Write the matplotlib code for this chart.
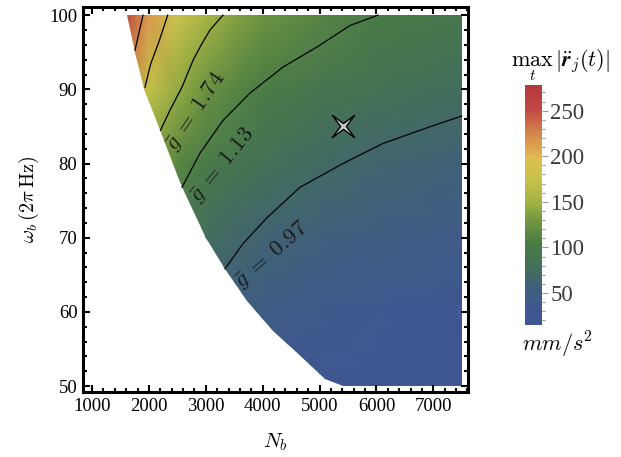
import numpy as np
import matplotlib
matplotlib.use('Agg')
import matplotlib.pyplot as plt
from matplotlib.colors import LinearSegmentedColormap
from matplotlib.patches import Polygon
from matplotlib.path import Path
from matplotlib.ticker import MultipleLocator

plt.rcParams['mathtext.fontset'] = 'cm'
plt.rcParams['font.family'] = ['Liberation Serif', 'DejaVu Serif']

# ---- data ----
N_grid = [1500, 2000, 2500, 3000, 3500, 4000, 5000, 6000, 7500]
omega_grid = [50, 60, 70, 80, 90, 100]
acc = [
    [80, 60, 48, 41, 37, 33, 29, 26, 23],          # omega = 50
    [105, 80, 65, 56, 50, 45, 39, 35, 31],         # 60
    [140, 105, 86, 76, 68, 62, 54, 48, 43],        # 70
    [180, 135, 114, 100, 90, 82, 72, 64, 58],      # 80
    [230, 172, 144, 125, 113, 104, 92, 84, 76],    # 90
    [290, 215, 178, 154, 138, 126, 112, 102, 94],  # 100
]

# feasible-region boundary (left edge)
bnd_omega = [100, 95, 90, 84.5, 80, 76.8, 70, 65.8, 61.5, 57.4, 55, 51, 50]
bnd_N = [1615, 1755, 1920, 2195, 2420, 2580, 3000, 3340, 3720, 4180, 4530, 5100, 5410]
N_max = 7500
omega_min, omega_max = 50, 100

# contour lines of g-bar
c1_N = [1896, 1830, 1756]
c1_w = [100, 97.8, 95.3]
c2_N = [2330, 2180, 2030, 1931]
c2_w = [100, 96.5, 93.4, 90.3]
c3_N = [3302, 3074, 2920, 2775, 2582, 2371, 2205]
c3_w = [100, 98, 96, 93.9, 90.3, 87.2, 84.5]
c4_N = [6026, 5534, 4954, 4357, 3777, 3302, 2898, 2582]
c4_w = [100, 98.6, 95.7, 93.0, 89.5, 85.8, 81.4, 76.8]
c5_N = [7500, 6993, 6114, 5411, 4656, 4076, 3654, 3337]
c5_w = [86.4, 85.1, 82.7, 80, 76.8, 72.7, 69.2, 65.8]

labels = [r'$\bar{g}\;=\;1.74$', r'$\bar{g}\;=\;1.13$', r'$\bar{g}\;=\;0.97$']
label_N = [2820, 3290, 4150]
label_w = [87.0, 79.8, 67.7]
label_rot = [56, 51, 41]

star_N, star_w = 5411, 85.1

cb_ticks = [50, 100, 150, 200, 250]

# ---- colormap ----
cm_pos = [0.0, 0.076, 0.16, 0.24, 0.34, 0.43, 0.51, 0.61, 0.69, 0.745, 0.82, 0.905, 1.0]
cm_col = ['#3e5595', '#3e5890', '#406078', '#43705a', '#4a7c44', '#6f9540',
          '#a0b244', '#c9c24a', '#ddbf4f', '#dda24f', '#cf7a4a', '#c04545', '#b53a3a']
cmap = LinearSegmentedColormap.from_list('dr', list(zip(cm_pos, cm_col)))
vmin, vmax = 15, 278

fig = plt.figure(figsize=(6.21, 4.57), dpi=100)
ax = fig.add_axes([0.1337, 0.1422, 0.620, 0.8425])

mesh = ax.pcolormesh(N_grid, omega_grid, acc, shading='gouraud', cmap=cmap,
                     vmin=vmin, vmax=vmax, zorder=1)
poly_pts = list(zip(bnd_N, bnd_omega)) + [(N_max, omega_min), (N_max, omega_max)]
poly = Polygon(poly_pts, closed=True, transform=ax.transData,
               facecolor='none', edgecolor='none')
mesh.set_clip_path(poly)

for xs, ys in [(c1_N, c1_w), (c2_N, c2_w), (c3_N, c3_w), (c4_N, c4_w), (c5_N, c5_w)]:
    ax.plot(xs, ys, color='black', lw=0.9, zorder=3)

for t, x, y, r in zip(labels, label_N, label_w, label_rot):
    ax.text(x, y, t, rotation=r, rotation_mode='anchor', ha='center', va='center',
            fontsize=16.5, color='#1a1a1a', zorder=4)

# 4-point star marker
s = 0.26
verts = [(1, 1), (s, 0), (1, -1), (0, -s), (-1, -1), (-s, 0), (-1, 1), (0, s), (1, 1)]
codes = [Path.MOVETO] + [Path.LINETO] * 7 + [Path.CLOSEPOLY]
star = Path(verts, codes)
ax.plot([star_N], [star_w], marker=star, markersize=16, markerfacecolor='#c8c8c8',
        markeredgecolor='black', markeredgewidth=1.0, linestyle='none', zorder=5)

ax.set_xlim(842, 7610)
ax.set_ylim(49.2, 101.1)
ax.xaxis.set_major_locator(MultipleLocator(1000))
ax.xaxis.set_minor_locator(MultipleLocator(200))
ax.yaxis.set_major_locator(MultipleLocator(10))
ax.yaxis.set_minor_locator(MultipleLocator(2))
ax.tick_params(which='both', direction='in', top=True, right=True, width=1.5,
               labelsize=13.5, pad=4)
ax.tick_params(which='major', length=5)
ax.tick_params(which='minor', length=3)
for sp in ax.spines.values():
    sp.set_linewidth(2.2)

ax.set_xlabel(r'$N_b$', fontsize=15, labelpad=12)
ax.set_ylabel(r'$\omega_b\,(2\pi\,\mathrm{Hz})$', fontsize=14.5, labelpad=6)

# colorbar
cax = fig.add_axes([0.8454, 0.2888, 0.0274, 0.525])
cb = fig.colorbar(mesh, cax=cax)
cb.outline.set_visible(False)
cb.set_ticks(cb_ticks)
cax.yaxis.set_minor_locator(MultipleLocator(10))
cax.tick_params(which='both', direction='out', color='#999999', labelcolor='#3a3a3a',
                labelsize=16.5, width=0.8, pad=2)
cax.tick_params(which='major', length=4)
cax.tick_params(which='minor', length=2)

fig.text(0.902, 0.858, r'$\max_t\,|\ddot{\boldsymbol{r}}_j\!(t)|$', fontsize=16,
         ha='center', va='center')
fig.text(0.898, 0.245, r'$mm/s^2$', fontsize=16, ha='center', va='center')

fig.savefig('out.png', dpi=100)
